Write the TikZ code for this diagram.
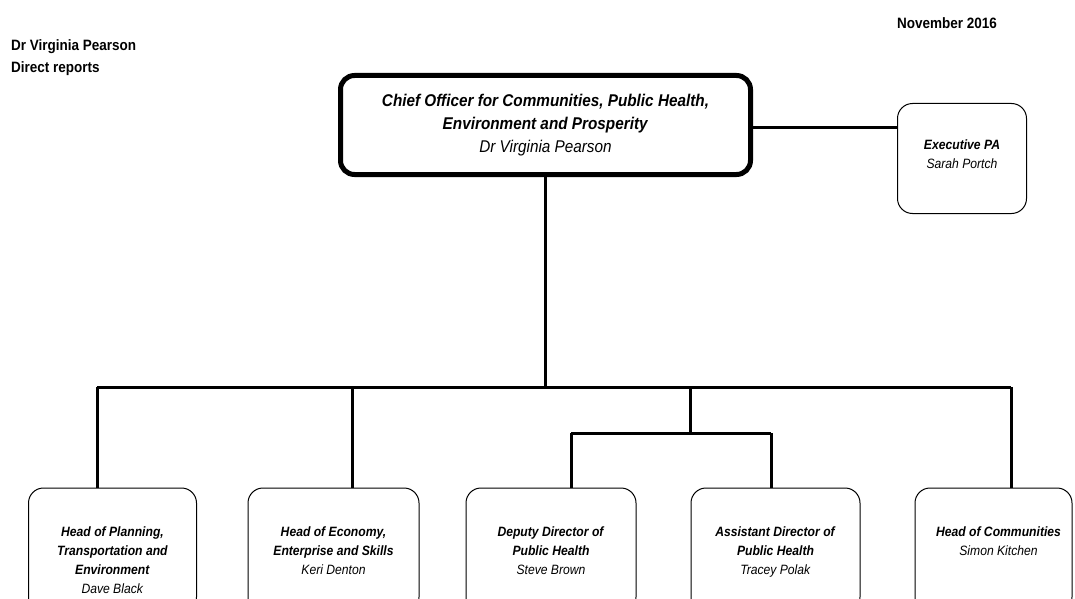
\documentclass[tikz,border=0pt]{standalone}
\usepackage{fontspec}
\setmainfont[FakeStretch=0.9]{Liberation Sans}
\usetikzlibrary{positioning}

\begin{document}
\begin{tikzpicture}[x=1pt,y=-1pt,
        post/.style={draw, line width=1pt, rounded corners=15pt, minimum width=170pt, minimum height=124pt, inner sep=0pt},
        posttext/.style={align=center, inner sep=0pt, font=\fontsize{13.5}{19}\selectfont},
        bus/.style={line width=3pt},
        head/.style={font=\bfseries\fontsize{15}{22}\selectfont, inner sep=0pt}]
        \useasboundingbox (0,0) rectangle (1075,599);
        \clip (0,0) rectangle (1075,599);

        % header
        \node[head, anchor=west, align=left] (who) at (11,58) {Dr Virginia Pearson\\Direct reports};
        \node[head] (date) at (947,23) {November 2016};

        % chief officer and PA
        \node[draw, line width=5pt, rounded corners=14pt, minimum width=410pt, minimum height=99pt,
            align=center, font=\fontsize{17}{23}\selectfont] (chief) at (545.5,125)
            {\textbf{\textit{Chief Officer for Communities, Public Health,}}\\
             \textbf{\textit{Environment and Prosperity}}\\
             \textit{Dr Virginia Pearson}};
        \node[post, minimum width=129pt, minimum height=110pt] (pa) at (962,158.5) {};
        \node[posttext, below=37pt of pa.north] (patext)
            {\textbf{\textit{Executive PA}}\\ \textit{Sarah Portch}};

        % direct reports
        \node[post, minimum width=168pt] (plan) at (112.5,550) {};
        \node[post, minimum width=171pt] (econ) at (333.5,550) {};
        \node[post] (deputy) at (551,550) {};
        \node[post, minimum width=169pt] (assist) at (775.5,550) {};
        \node[post, minimum width=157pt] (comm) at (993.5,550) {};

        \node[posttext, below=39pt of plan.north] (plantext)
            {\textbf{\textit{Head of Planning,}}\\ \textbf{\textit{Transportation and}}\\
             \textbf{\textit{Environment}}\\ \textit{Dave Black}};
        \node[posttext, below=39pt of econ.north] (econtext)
            {\textbf{\textit{Head of Economy,}}\\ \textbf{\textit{Enterprise and Skills}}\\ \textit{Keri Denton}};
        \node[posttext, below=39pt of deputy.north] (deputytext)
            {\textbf{\textit{Deputy Director of}}\\ \textbf{\textit{Public Health}}\\ \textit{Steve Brown}};
        \node[posttext, below=39pt of assist.north] (assisttext)
            {\textbf{\textit{Assistant Director of}}\\ \textbf{\textit{Public Health}}\\ \textit{Tracey Polak}};
        \node[posttext, below=39pt of comm.north, xshift=5pt] (commtext)
            {\textbf{\textit{Head of Communities}}\\ \textit{Simon Kitchen}};

        % lines
        \coordinate (busL) at (97,387);
        \coordinate (busR) at (1011,387);
        \coordinate (econbus) at (352,387);
        \coordinate (phbus) at (690,387);
        \coordinate (phL) at (571,433);
        \coordinate (phR) at (771,433);

        \draw[bus] ([yshift=-2pt]chief.east) -- ([yshift=-2pt]chief.east -| pa.west);
        \draw[bus] (chief) -- (chief |- busL);
        \draw[bus] (busL) -- (busR);
        \draw[bus] (busL) -- (busL |- plan.north);
        \draw[bus] (econbus) -- (econbus |- econ.north);
        \draw[bus] (phbus) -- (phbus |- phL);
        \draw[bus] (phL) -- (phR);
        \draw[bus] (phL) -- (phL |- deputy.north);
        \draw[bus] (phR) -- (phR |- assist.north);
        \draw[bus] (busR) -- (busR |- comm.north);
    \end{tikzpicture}
\end{document}
